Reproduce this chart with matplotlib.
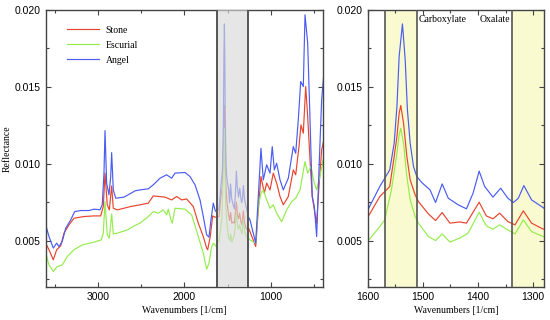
import matplotlib.pyplot as plt
from matplotlib.ticker import MultipleLocator

# wavenumber [1/cm] and reflectance
wn_angel = [3610, 3572, 3522, 3483, 3456, 3418, 3378, 3320, 3274, 3204, 3108, 3050, 2980, 2954, 2934, 2922,
            2903, 2876, 2856, 2845, 2826, 2798, 2702, 2606, 2574, 2516, 2420, 2362, 2284, 2207, 2149, 2110,
            1994, 1936, 1878, 1820, 1782, 1743, 1716, 1693, 1666, 1646, 1635, 1615,
            1599, 1578, 1569, 1560, 1552, 1547, 1543, 1537, 1532, 1528, 1523, 1517, 1511, 1502, 1487, 1477,
            1465, 1454, 1436, 1421, 1409, 1398, 1388, 1373, 1359, 1346, 1336, 1327, 1317, 1303, 1282,
            1262, 1240, 1174, 1144, 1113, 1086, 1047, 1008, 982, 958, 931, 892, 854, 796, 738, 710, 680,
            652, 622, 602, 571, 544, 518, 494, 467, 440, 409, 383]
angel = [0.00604, 0.00528, 0.00453, 0.00485, 0.00463, 0.00496, 0.00582, 0.00636, 0.00690, 0.00697, 0.00697,
         0.00706, 0.00702, 0.00734, 0.00940, 0.01216, 0.00875, 0.00799, 0.00918, 0.01073, 0.00831, 0.00777,
         0.00784, 0.00814, 0.00825, 0.00831, 0.00838, 0.00864, 0.00907, 0.00929, 0.00907, 0.00940, 0.00944,
         0.00918, 0.00864, 0.00766, 0.00658, 0.00539, 0.00524, 0.00636, 0.00745, 0.00701, 0.00690, 0.00700,
         0.00706, 0.00853, 0.00907, 0.00961, 0.01134, 0.01372, 0.01697, 0.01909, 0.01675, 0.01351, 0.01134,
         0.00983, 0.00918, 0.00879, 0.00831, 0.00749, 0.00870, 0.00777, 0.00734, 0.00708, 0.00810, 0.00953,
         0.00853, 0.00784, 0.00842, 0.00777, 0.00749, 0.00777, 0.00859, 0.00766, 0.00716,
         0.00658, 0.00636, 0.00485, 0.00788, 0.01102, 0.00896, 0.00994, 0.00940, 0.01112, 0.00961, 0.01004,
         0.00896, 0.00831, 0.00907, 0.01112, 0.01069, 0.01286, 0.01535, 0.01502, 0.01968, 0.01784, 0.01286,
         0.00788, 0.00723, 0.00528, 0.00961, 0.01416, 0.01589]

wn_stone = [3610, 3572, 3522, 3483, 3436, 3398, 3340, 3282, 3166, 3050, 2972, 2942, 2922, 2896, 2872, 2845,
            2826, 2780, 2624, 2516, 2420, 2362, 2226, 2149, 2091, 2033, 1975, 1898, 1840, 1782, 1743, 1731,
            1701, 1673, 1646, 1635, 1615,
            1599, 1578, 1569, 1560, 1552, 1547, 1543, 1540, 1535, 1529, 1523, 1514, 1508, 1490, 1477, 1465,
            1451, 1433, 1421, 1398, 1385, 1373, 1361, 1346, 1333, 1318, 1303, 1282,
            1262, 1240, 1174, 1144, 1113, 1074, 1047, 1008, 970, 931, 892, 854, 796, 738, 710, 672, 649, 622,
            594, 571, 544, 518, 494, 467, 440, 409, 383]
stone = [0.00485, 0.00442, 0.00377, 0.00442, 0.00468, 0.00550, 0.00604, 0.00647, 0.00658, 0.00662, 0.00662,
         0.00723, 0.00940, 0.00734, 0.00701, 0.00857, 0.00712, 0.00701, 0.00723, 0.00734, 0.00745, 0.00792,
         0.00784, 0.00766, 0.00788, 0.00766, 0.00772, 0.00723, 0.00615, 0.00528, 0.00453, 0.00442, 0.00528,
         0.00662, 0.00654, 0.00654, 0.00656,
         0.00658, 0.00788, 0.00820, 0.00853, 0.01048, 0.01177, 0.01329, 0.01379, 0.01264, 0.01048, 0.00896,
         0.00799, 0.00755, 0.00675, 0.00632, 0.00684, 0.00615, 0.00623, 0.00615, 0.00751, 0.00662, 0.00643,
         0.00680, 0.00625, 0.00604, 0.00695, 0.00615, 0.00576,
         0.00590, 0.00560, 0.00463, 0.00701, 0.00918, 0.00810, 0.00875, 0.00831, 0.00940, 0.00875, 0.00788,
         0.00734, 0.00788, 0.00961, 0.00929, 0.01112, 0.01253, 0.01199, 0.01502, 0.01307, 0.01026, 0.00788,
         0.00701, 0.00615, 0.00853, 0.01091, 0.01156]

wn_escurial = [3610, 3572, 3522, 3476, 3418, 3360, 3282, 3186, 3070, 2965, 2942, 2922, 2896, 2872, 2845, 2826,
               2780, 2663, 2574, 2516, 2420, 2362, 2304, 2246, 2207, 2188, 2157, 2142, 2110, 1994, 1917, 1840,
               1782, 1743, 1716, 1685, 1662, 1635, 1615,
               1599, 1578, 1569, 1563, 1557, 1547, 1543, 1540, 1535, 1529, 1523, 1514, 1508, 1490, 1477, 1465,
               1451, 1433, 1418, 1398, 1385, 1373, 1361, 1346, 1333, 1318, 1303, 1282,
               1262, 1240, 1174, 1144, 1113, 1086, 1047, 1008, 970, 931, 873, 815, 757, 710, 660, 602, 571, 533,
               494, 467, 429, 383]
escurial = [0.00420, 0.00344, 0.00301, 0.00333, 0.00344, 0.00398, 0.00442, 0.00474, 0.00489, 0.00506, 0.00550,
            0.00755, 0.00539, 0.00518, 0.00675, 0.00545, 0.00550, 0.00571, 0.00600, 0.00615, 0.00658, 0.00690,
            0.00680, 0.00701, 0.00669, 0.00706, 0.00636, 0.00615, 0.00712, 0.00706, 0.00669, 0.00528, 0.00420,
            0.00316, 0.00355, 0.00463, 0.00485, 0.00463, 0.00490,
            0.00500, 0.00593, 0.00636, 0.00735, 0.00831, 0.01069, 0.01188, 0.01232, 0.01134, 0.00918, 0.00766,
            0.00658, 0.00615, 0.00528, 0.00502, 0.00545, 0.00492, 0.00518, 0.00550, 0.00686, 0.00597, 0.00576,
            0.00604, 0.00571, 0.00545, 0.00636, 0.00560, 0.00528,
            0.00520, 0.00506, 0.00485, 0.00723, 0.00810, 0.00831, 0.00766, 0.00712, 0.00734, 0.00680, 0.00625,
            0.00701, 0.00755, 0.00777, 0.00831, 0.01015, 0.00940, 0.00983, 0.00875, 0.00831, 0.00918, 0.01048]

grey_band = [1627, 1260]
carboxylate_band = [1569, 1510]
oxalate_band = [1339, 1250]

c_stone = '#e8432c'
c_escurial = '#94ec4c'
c_angel = '#4a5cf2'
serif = 'Liberation Serif'

plt.rcParams['font.family'] = 'Liberation Sans'
plt.rcParams['font.size'] = 7.5

fig = plt.figure(figsize=(5.5, 3.2), dpi=100)
ax1 = fig.add_axes([0.0831, 0.103, 0.5047, 0.866])
ax2 = fig.add_axes([0.6685, 0.103, 0.3211, 0.866])

for ax in (ax1, ax2):
    ax.plot(wn_stone, stone, color=c_stone, lw=0.85, label='Stone', zorder=2)
    ax.plot(wn_escurial, escurial, color=c_escurial, lw=0.85, label='Escurial', zorder=2)
    ax.plot(wn_angel, angel, color=c_angel, lw=0.85, label='Angel', zorder=2)
    ax.set_ylim(0.002, 0.020)
    ax.yaxis.set_major_locator(MultipleLocator(0.005))
    ax.yaxis.set_minor_locator(MultipleLocator(0.0025))
    ax.tick_params(which='both', direction='in', top=True, right=True, color='#444444', width=0.8)
    ax.tick_params(which='major', length=3.5)
    ax.tick_params(which='minor', length=2.5)
    for s in ax.spines.values():
        s.set_color('#444444')
        s.set_linewidth(1.0)
    ax.set_xlabel('Wavenumbers [1/cm]', family=serif, fontsize=7, labelpad=3)

ax1.set_xlim(3610, 390)
ax1.xaxis.set_major_locator(MultipleLocator(1000))
ax1.xaxis.set_minor_locator(MultipleLocator(500))
ax1.set_yticks([0.005, 0.010, 0.015, 0.020])
ax1.set_yticklabels(['0.005', '0.010', '0.015', '0.020'])
ax1.axvspan(grey_band[0], grey_band[1], facecolor='#d9d9d9', alpha=0.65, zorder=3, lw=0)
for x in grey_band:
    ax1.axvline(x, color='#555555', lw=1.4, zorder=4)
ax1.set_ylabel('Reflectance', family=serif, fontsize=7, labelpad=2)
leg = ax1.legend(loc='upper left', bbox_to_anchor=(0.045, 0.975), frameon=False,
                 prop={'family': serif, 'size': 7}, handlelength=3.3, handletextpad=0.7,
                 labelspacing=0.62)

ax2.set_xlim(1600, 1280)
ax2.xaxis.set_major_locator(MultipleLocator(100))
ax2.xaxis.set_minor_locator(MultipleLocator(50))
ax2.set_yticks([0.005, 0.010, 0.015, 0.020])
ax2.set_yticklabels(['0.005', '0.010', '0.015', '0.020'])
for band in (carboxylate_band, oxalate_band):
    ax2.axvspan(band[0], band[1], facecolor='#fafad0', zorder=1, lw=0)
    for x in band:
        ax2.axvline(x, color='#555555', lw=1.2, zorder=4)
ax2.text(1508, 0.0194, 'Carboxylate', family=serif, fontsize=7, va='center', ha='left')
ax2.text(1398, 0.0194, 'Oxalate', family=serif, fontsize=7, va='center', ha='left')

plt.savefig('out.png', dpi=100)
